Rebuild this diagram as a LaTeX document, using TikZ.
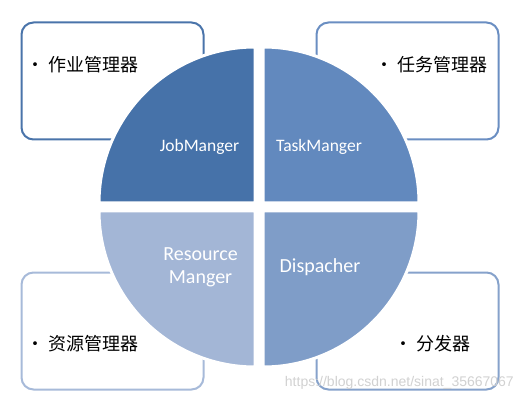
\documentclass[tikz,border=0pt]{standalone}
\usepackage{fontspec}
\setmainfont{Carlito}
\newfontfamily\cjk{Noto Sans CJK SC}
\newfontfamily\wmfont{Liberation Sans}
\definecolor{qtl}{HTML}{4672A9}
\definecolor{qtr}{HTML}{6289BE}
\definecolor{qbl}{HTML}{A3B6D6}
\definecolor{qbr}{HTML}{7F9DC8}
\definecolor{btl}{HTML}{4A74AA}
\definecolor{btr}{HTML}{6A8EC2}
\definecolor{bbl}{HTML}{A7BAD9}
\definecolor{bbr}{HTML}{86A2CB}
\begin{document}
\begin{tikzpicture}[x=1pt,y=1pt,
  infobox/.style={draw=#1, line width=2pt, rounded corners=12pt, fill=white,
    minimum width=182pt, minimum height=117pt, inner sep=0pt},
  quad/.style={fill=#1, draw=white, line width=3pt},
  qlabel/.style={text=white, font=\fontsize{17.5}{21}\selectfont, anchor=base, inner sep=0pt},
  qlabelbig/.style={text=white, font=\fontsize{20}{23}\selectfont, anchor=base, inner sep=0pt, align=center},
  item/.style={font=\cjk\fontsize{18}{20}\selectfont, anchor=west, inner sep=0pt}
]
\useasboundingbox (0,0) rectangle (524,-403);
% boxes
\node[infobox=btl] (boxtl) at (112.5,-81) {};
\node[infobox=btr] (boxtr) at (407.5,-81) {};
\node[infobox=bbl] (boxbl) at (112.5,-331) {};
\node[infobox=bbr] (boxbr) at (407.5,-331) {};
% quadrants
\path[quad=qtl] (255,-203) -- ++(-156pt,0) arc[start angle=180, end angle=90, radius=156pt] -- cycle;
\path[quad=qtr] (263,-203) -- ++(0,156pt) arc[start angle=90, end angle=0, radius=156pt] -- cycle;
\path[quad=qbl] (255,-211) -- ++(-156pt,0) arc[start angle=180, end angle=270, radius=156pt] -- cycle;
\path[quad=qbr] (263,-211) -- ++(0,-156pt) arc[start angle=270, end angle=360, radius=156pt] -- cycle;
% quadrant labels
\node[qlabel] (job) at (199.5,-152) {JobManger};
\node[qlabel] (task) at (319,-152) {TaskManger};
\node[qlabelbig] (res) at (200.5,-283) {Resource\\Manger};
\node[qlabelbig] (disp) at (320,-272) {Dispacher};
% items
\node[item] (itl) at (26,-65) {•\hspace{4.5pt}作业管理器};
\node[item] (itr) at (375,-65) {•\hspace{4.5pt}任务管理器};
\node[item] (ibl) at (26,-344) {•\hspace{4.5pt}资源管理器};
\node[item] (ibr) at (394,-344) {•\hspace{4.5pt}分发器};
% watermark
\node[font=\wmfont\fontsize{14}{16}\selectfont, text=black!18, anchor=east, inner sep=0pt] (wm) at (514,-383) {https://blog.csdn.net/sinat\_35667067};
\end{tikzpicture}
\end{document}
